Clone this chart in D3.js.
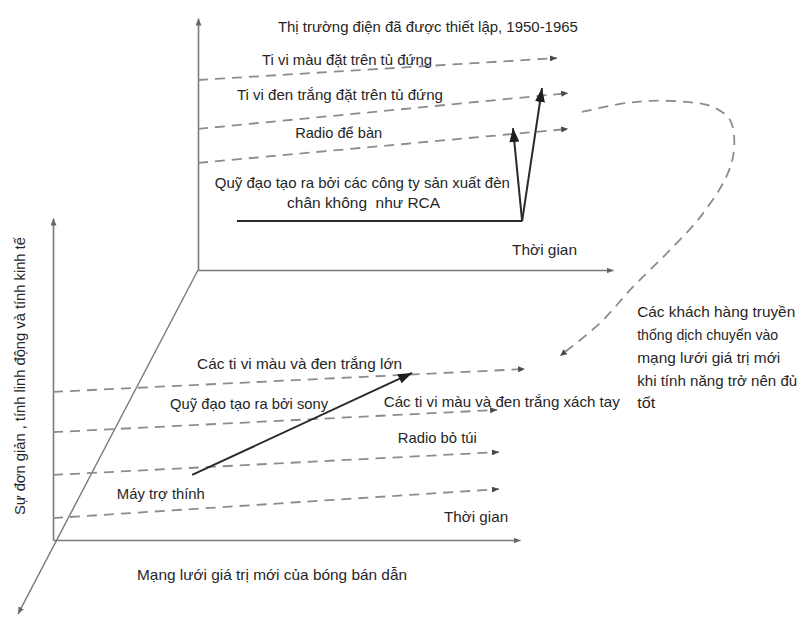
<!DOCTYPE html>
<html><head><meta charset="utf-8">
<script src="https://cdn.jsdelivr.net/npm/d3@7"></script>
<style>
body{margin:0;background:#fff}
text{font-family:"Liberation Sans",Arial,sans-serif;fill:#262626;font-size:14.5px;white-space:pre}
</style>
</head><body>
<svg id="c" width="798" height="618"></svg>
<script>
// ---------- DATA (plane units) ----------
// Upper plane: established vacuum-tube market
const topLineStartY = [7.54, 5.60, 4.25];
const topLineEndX   = [8.65, 8.92, 8.92];
const topLineEndY   = [8.41, 7.02, 5.60];
const rcaBaseX  = [0.94, 7.81];
const rcaBaseY  = 1.94;
const rcaTipX   = [7.59, 8.29];
const rcaTipY   = [5.63, 7.22];
const topLabels = ["Thị trường điện đã được thiết lập, 1950-1965","Ti vi màu đặt trên tủ đứng","Ti vi đen trắng đặt trên tủ đứng","Radio để bàn","Quỹ đạo tạo ra bởi các công ty sản xuất đèn","chân không  như RCA","Thời gian"];
// Lower plane: transistor value network
const botLineStartY = [4.60, 3.35, 2.02, 0.68];
const botLineEndX   = [10.11, 9.51, 9.55, 9.55];
const botLineEndY   = [5.31, 4.04, 2.73, 1.58];
const sonyX = [2.98, 7.69];
const sonyY = [2.02, 5.19];
const botLabels = ["Các ti vi màu và đen trắng lớn","Quỹ đạo tạo ra bởi sony","Các ti vi màu và đen trắng xách tay","Radio bỏ túi","Máy trợ thính","Thời gian","Mạng lưới giá trị mới của bóng bán dẫn"];
const yAxisLabel = "Sự đơn giản , tính linh động và tính kinh tế";
const noteLines = ["Các khách hàng truyền","thống dịch chuyển vào","mạng lưới giá trị mới","khi tính năng trở nên đủ","tốt"];
// migration curve (upper plane units)
const curveX = [9.25,10.17,10.89,11.78,12.41,12.82,12.92,12.75,12.10,11.30,10.48,9.69,8.72];
const curveY = [6.27,6.59,6.71,6.67,6.47,5.95,4.88,3.77,2.10,0.67,-0.67,-2.10,-3.41];
// depth axis end (lower plane units)
const depthEnd = [-0.75, -2.30];

// ---------- LAYOUT ----------
const topLabelX = [5.54,3.59,3.42,3.39,3.96,3.99,8.35];
const topLabelY = [9.64,8.33,6.94,5.44,3.45,2.66,0.79];
const topLabelW = [300,170,206,87,295,153,65];
const botLabelX = [5.28,4.20,9.61,8.23,2.31,9.06,4.69];
const botLabelY = [5.47,4.22,4.29,3.17,1.43,0.71,-1.09];
const botLabelW = [205,158,236,79,88,64,270];
const noteX = 12.51, noteY = [7.08,6.37,5.66,4.94,4.26], noteW=[158,141,143,160,18];

const svg = d3.select("#c");
const xT = d3.scaleLinear().domain([0,10]).range([198,613]);
const yT = d3.scaleLinear().domain([0,10]).range([270,18]);
const xB = d3.scaleLinear().domain([0,10]).range([53,520]);
const yB = d3.scaleLinear().domain([0,10]).range([540,218]);

const defs = svg.append("defs");
function marker(id, L, W, color){
  defs.append("marker").attr("id",id).attr("viewBox",`0 ${-W/2} ${L} ${W}`)
    .attr("refX",L).attr("refY",0).attr("markerWidth",L).attr("markerHeight",W)
    .attr("markerUnits","userSpaceOnUse").attr("orient","auto")
    .append("path").attr("d",`M0,${-W/2}L${L},0L0,${W/2}Z`).attr("fill",color);
}
marker("aBig",14,10,"#1e1e1e");
marker("aDash",7,6,"#4a4a4a");
marker("aAxis",7,6,"#666");

const axisColor="#7a7a7a", dashColor="#8c8c8c";

// depth axis
svg.append("line")
  .attr("x1",xT(0)).attr("y1",yT(0))
  .attr("x2",xB(depthEnd[0])).attr("y2",yB(depthEnd[1]))
  .attr("stroke",axisColor).attr("stroke-width",1.4).attr("marker-end","url(#aAxis)");

// axes via d3
function drawAxes(xs, ys){
  const gx = svg.append("g").attr("transform",`translate(0,${ys.range()[0]})`)
    .call(d3.axisBottom(xs).tickValues([]).tickSizeOuter(0));
  const gy = svg.append("g").attr("transform",`translate(${xs.range()[0]},0)`)
    .call(d3.axisLeft(ys).tickValues([]).tickSizeOuter(0));
  [gx,gy].forEach(g=>g.select(".domain").attr("stroke",axisColor).attr("stroke-width",1.6).attr("marker-end","url(#aAxis)"));
}
drawAxes(xT,yT);
drawAxes(xB,yB);

// dashed performance lines
function dashed(xs, ys, sy, ex, ey){
  sy.forEach((v,i)=>{
    svg.append("line").attr("x1",xs(0)).attr("y1",ys(v))
      .attr("x2",xs(ex[i])).attr("y2",ys(ey[i]))
      .attr("stroke",dashColor).attr("stroke-width",1.8)
      .attr("stroke-dasharray","10,7").attr("marker-end","url(#aDash)");
  });
}
dashed(xT,yT,topLineStartY,topLineEndX,topLineEndY);
dashed(xB,yB,botLineStartY,botLineEndX,botLineEndY);

// migration curve
svg.append("path")
  .attr("d", d3.line().x((d,i)=>xT(curveX[i])).y((d,i)=>yT(curveY[i])).curve(d3.curveCatmullRom)(curveX))
  .attr("fill","none").attr("stroke",dashColor).attr("stroke-width",1.8)
  .attr("stroke-dasharray","10,7").attr("marker-end","url(#aDash)");

// RCA trajectory
svg.append("line").attr("x1",xT(rcaBaseX[0])).attr("y1",yT(rcaBaseY))
  .attr("x2",xT(rcaBaseX[1])).attr("y2",yT(rcaBaseY))
  .attr("stroke","#2a2a2a").attr("stroke-width",2);
rcaTipX.forEach((tx,i)=>{
  svg.append("line").attr("x1",xT(rcaBaseX[1])).attr("y1",yT(rcaBaseY))
    .attr("x2",xT(tx)).attr("y2",yT(rcaTipY[i]))
    .attr("stroke","#2a2a2a").attr("stroke-width",2).attr("marker-end","url(#aBig)");
});

// Sony trajectory
svg.append("line").attr("x1",xB(sonyX[0])).attr("y1",yB(sonyY[0]))
  .attr("x2",xB(sonyX[1])).attr("y2",yB(sonyY[1]))
  .attr("stroke","#2a2a2a").attr("stroke-width",2).attr("marker-end","url(#aBig)");

// labels
function labels(arr, xs, ys, lx, ly, lw){
  arr.forEach((t,i)=>{
    svg.append("text").attr("x",xs(lx[i])).attr("y",ys(ly[i])).attr("dy","0.35em")
      .attr("text-anchor","middle").attr("textLength",lw[i]).attr("lengthAdjust","spacingAndGlyphs")
      .text(t);
  });
}
labels(topLabels,xT,yT,topLabelX,topLabelY,topLabelW);
labels(botLabels,xB,yB,botLabelX,botLabelY,botLabelW);

noteLines.forEach((t,i)=>{
  svg.append("text").attr("x",xB(noteX)).attr("y",yB(noteY[i])).attr("dy","0.35em")
    .attr("textLength",noteW[i]).attr("lengthAdjust","spacingAndGlyphs").text(t);
});

svg.append("text")
  .attr("transform",`translate(${xB(-0.71)},${yB(5.09)}) rotate(-90)`)
  .attr("dy","0.35em").attr("text-anchor","middle")
  .attr("textLength",278).attr("lengthAdjust","spacingAndGlyphs")
  .text(yAxisLabel);
</script>
</body></html>
